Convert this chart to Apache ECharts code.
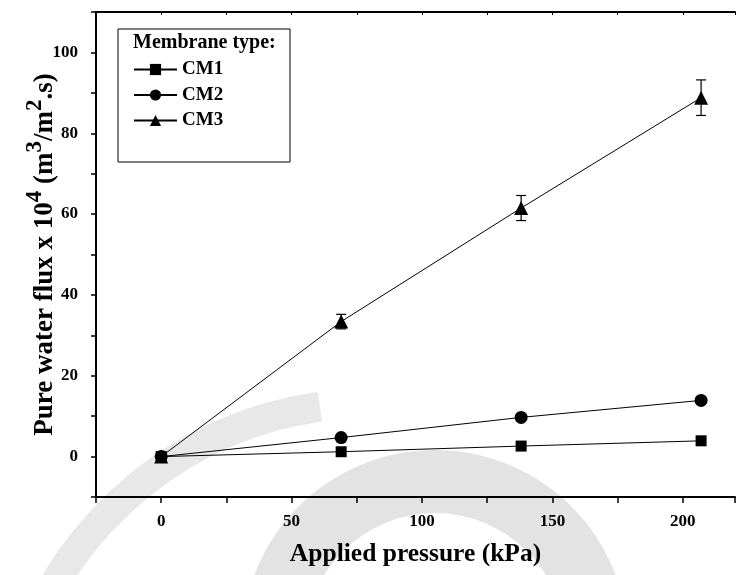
<!DOCTYPE html>
<html>
<head>
<meta charset="utf-8">
<script src="https://cdn.jsdelivr.net/npm/echarts@6/dist/echarts.min.js"></script>
<style>
html,body{margin:0;padding:0;background:#fff;}
#chart{width:738px;height:575px;}
</style>
</head>
<body>
<div id="chart"></div>
<script>
// ---- data ----
const pressure = [0, 69, 138, 207];
const cm1 = [0, 1.2, 2.6, 3.9];
const cm2 = [0, 4.7, 9.7, 13.9];
const cm3 = [0, 33.4, 61.5, 88.8];
const cm3Err = [0, 1.8, 3.1, 4.4];
const seriesNames = ['CM1', 'CM2', 'CM3'];
const xTickLabels = [0, 50, 100, 150, 200];
const yTickLabels = [0, 20, 40, 60, 80, 100];

const FONT = '"Liberation Serif", "Times New Roman", serif';
const chart = echarts.init(document.getElementById('chart'), null, {renderer: 'canvas'});

const pairs = arr => pressure.map((p, i) => [p, arr[i]]);
const errData = pressure.map((p, i) => [p, cm3[i] - cm3Err[i], cm3[i] + cm3Err[i]]).filter((d, i) => cm3Err[i] > 0);

const lineSeries = (name, data, symbol, size) => ({
  name, type: 'line', data, symbol, symbolSize: size,
  xAxisIndex: 0, yAxisIndex: 0,
  lineStyle: {color: '#000', width: 1},
  itemStyle: {color: '#000'},
  z: 3, animation: false
});

const option = {
  backgroundColor: '#fff',
  animation: false,
  graphic: [
    {type: 'ring', shape: {cx: 435, cy: 643, r: 193, r0: 130}, style: {fill: '#e3e3e3'}, z: -10, silent: true},
    {type: 'arc', shape: {cx: 371, cy: 770, r: 367, startAngle: 200 * Math.PI / 180, endAngle: 262 * Math.PI / 180}, style: {stroke: '#e8e8e8', lineWidth: 30, fill: 'none'}, z: -10, silent: true},
    {type: 'rect', shape: {x: 118, y: 29, width: 172, height: 133}, style: {fill: 'none', stroke: '#000', lineWidth: 1}, z: 10, silent: true}
  ],
  title: {
    text: 'Membrane type:', left: 128, top: 28,
    textStyle: {fontFamily: FONT, fontWeight: 'bold', fontSize: 20, color: '#000'}
  },
  legend: {
    data: seriesNames, orient: 'vertical', left: 133, top: 60,
    itemWidth: 43, itemHeight: 14, itemGap: 6.5, padding: 0,
    textStyle: {fontFamily: FONT, fontWeight: 'bold', fontSize: 19, lineHeight: 19, color: '#000'}
  },
  grid: {left: 96, right: 2, top: 12, bottom: 78},
  xAxis: [{
    type: 'value', position: 'bottom', min: -25, max: 220, interval: 25,
    name: 'Applied pressure (kPa)', nameLocation: 'middle', nameGap: 44, nameMoveOverlap: false,
    nameTextStyle: {fontFamily: FONT, fontWeight: 'bold', fontSize: 25.5, color: '#000'},
    axisLine: {show: true, onZero: false, lineStyle: {color: '#000', width: 2}},
    axisTick: {show: true, length: 6, lineStyle: {color: '#000', width: 1.5}},
    axisLabel: {
      margin: 16, fontFamily: FONT, fontWeight: 'bold', fontSize: 17, color: '#000',
      formatter: v => xTickLabels.includes(v) ? String(v) : ''
    },
    splitLine: {show: false}
  }, {
    type: 'value', position: 'top', min: -25, max: 220, interval: 25,
    axisLine: {show: true, onZero: false, lineStyle: {color: '#000', width: 2}},
    axisTick: {show: true, inside: true, length: 3, lineStyle: {color: '#000', width: 1}},
    axisLabel: {show: false}, splitLine: {show: false}
  }],
  yAxis: {
    type: 'value', min: -10, max: 110, interval: 10,
    name: '{a|Pure water flux x 10}{s|4}{a| (m}{s|3}{a|/m}{s|2}{a|.s)}',
    nameLocation: 'middle', nameRotate: 90, nameGap: 37, nameMoveOverlap: false,
    nameTextStyle: {
      fontFamily: FONT, fontWeight: 'bold', fontSize: 27, color: '#000',
      rich: {
        a: {fontFamily: FONT, fontWeight: 'bold', fontSize: 27, color: '#000', verticalAlign: 'bottom', lineHeight: 27},
        s: {fontFamily: FONT, fontWeight: 'bold', fontSize: 23, color: '#000', verticalAlign: 'bottom', lineHeight: 23, padding: [0, 0, 12, 0]}
      }
    },
    axisLine: {show: true, onZero: false, lineStyle: {color: '#000', width: 2}},
    axisTick: {show: true, length: 5, lineStyle: {color: '#000', width: 1.5}},
    axisLabel: {
      margin: 18, fontFamily: FONT, fontWeight: 'bold', fontSize: 17, color: '#000',
      formatter: v => yTickLabels.includes(v) ? String(v) : ''
    },
    splitLine: {show: false}
  },
  series: [
    {
      type: 'custom', name: 'CM3 error', xAxisIndex: 0, yAxisIndex: 0, z: 2,
      data: errData, silent: true,
      renderItem: (params, api) => {
        const x = api.value(0);
        const lo = api.coord([x, api.value(1)]);
        const hi = api.coord([x, api.value(2)]);
        const w = 5;
        const st = {stroke: '#000', lineWidth: 1.2};
        return {type: 'group', children: [
          {type: 'line', shape: {x1: hi[0], y1: hi[1], x2: lo[0], y2: lo[1]}, style: st},
          {type: 'line', shape: {x1: hi[0] - w, y1: hi[1], x2: hi[0] + w, y2: hi[1]}, style: st},
          {type: 'line', shape: {x1: lo[0] - w, y1: lo[1], x2: lo[0] + w, y2: lo[1]}, style: st}
        ]};
      }
    },
    lineSeries('CM1', pairs(cm1), 'rect', 11),
    lineSeries('CM2', pairs(cm2), 'circle', 13),
    lineSeries('CM3', pairs(cm3), 'triangle', 14)
  ]
};
chart.setOption(option);
</script>
</body>
</html>
